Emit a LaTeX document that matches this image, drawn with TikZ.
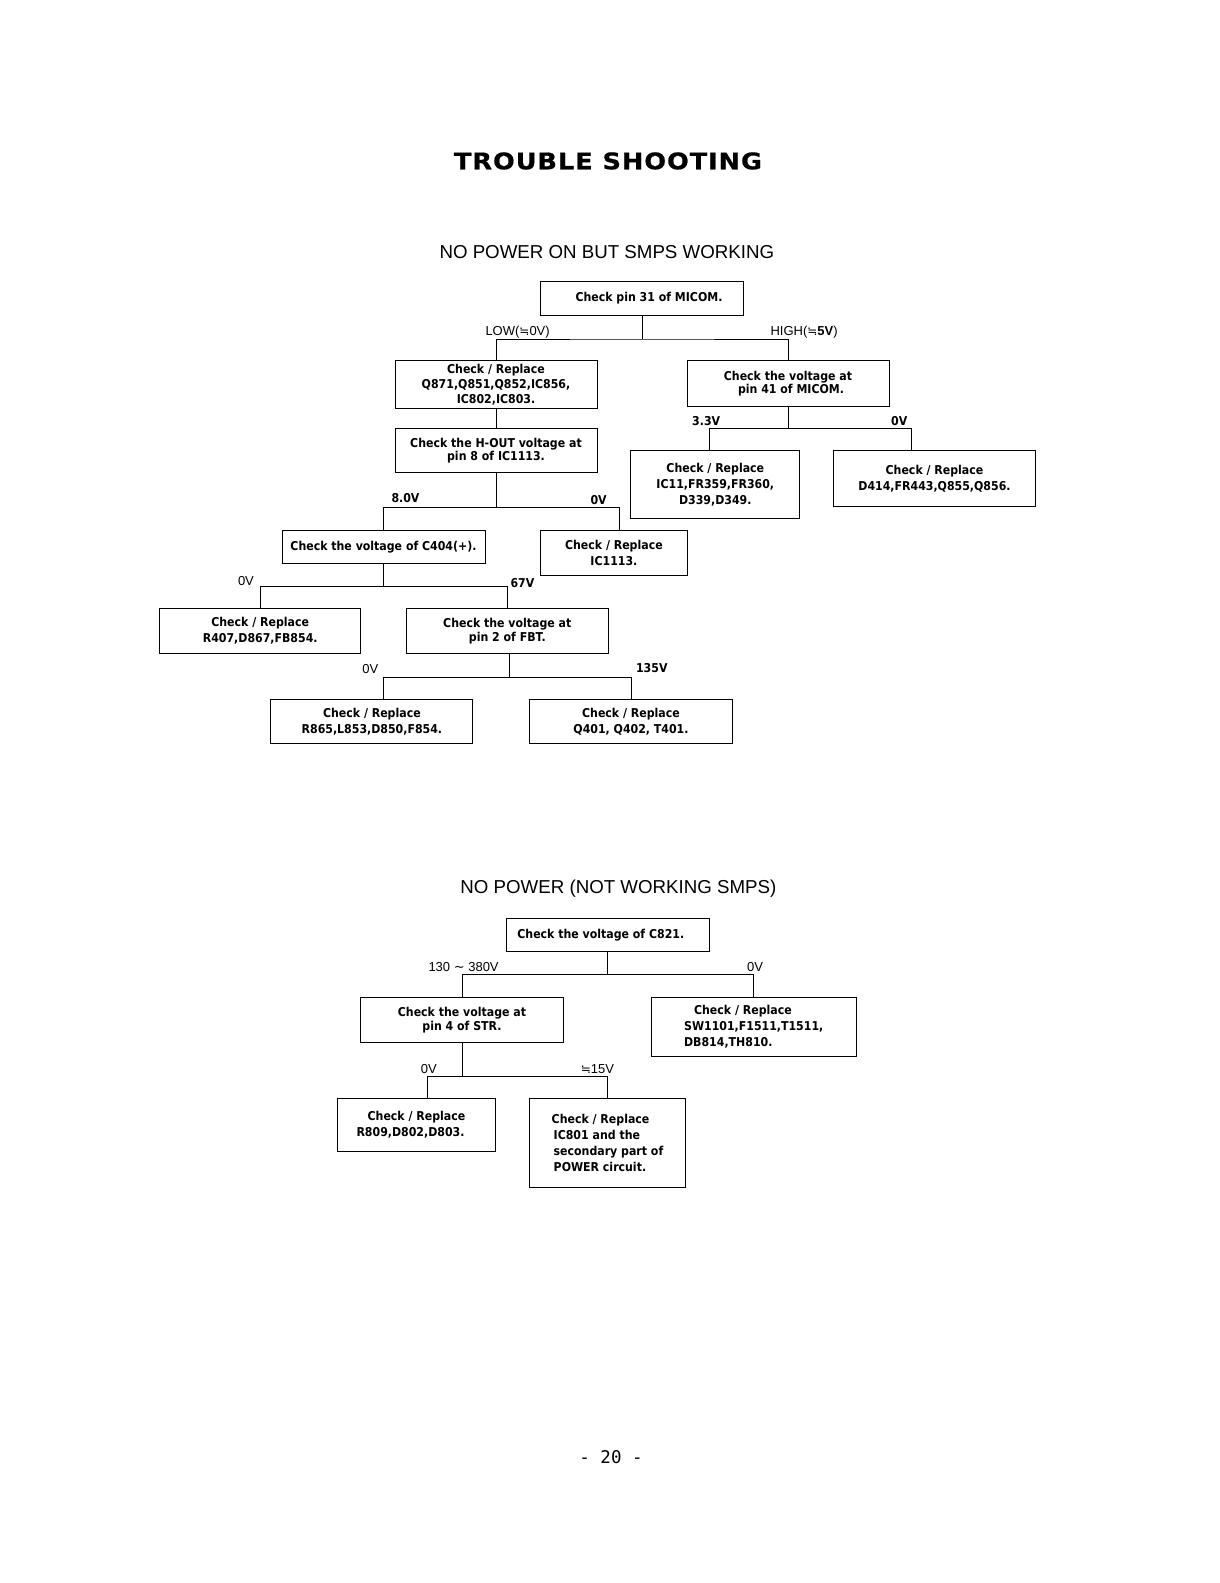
\documentclass[tikz,border=0pt]{standalone}
\usepackage{fontspec}
\setmainfont{Liberation Sans}
\newfontfamily\boxfont{DejaVu Sans}[FakeStretch=0.9]
\newfontfamily\symfont{DejaVu Sans}
\newfontfamily\titlefont{DejaVu Sans}[LetterSpace=4,FakeStretch=1.12,FakeBold=0.6]
\newfontfamily\pagefont{DejaVu Sans Mono}

\begin{document}
\begin{tikzpicture}[x=1pt,y=-1pt,line width=1pt,
  box/.style={draw,inner sep=0pt,align=center,
    font=\boxfont\bfseries\fontsize{12.2}{16}\selectfont},
  tight/.style={font=\boxfont\bfseries\fontsize{12.2}{13.5}\selectfont},
  lbl/.style={inner sep=0pt,anchor=base west,font=\fontsize{13}{15}\selectfont},
  blbl/.style={inner sep=0pt,anchor=base west,font=\boxfont\bfseries\fontsize{12.2}{15}\selectfont}]
\useasboundingbox (0,0) rectangle (1220,1583);

\node[anchor=base] (title) at (608,169.3) {\titlefont\bfseries\fontsize{22.9}{26}\selectfont TROUBLE SHOOTING};
\node[anchor=base] (head1) at (606.8,258) {\fontsize{18.7}{22}\selectfont NO POWER ON BUT SMPS WORKING};

\node[box,minimum width=203,minimum height=33.4] (pin31) at (642,298.6) {\kern14pt Check pin 31 of MICOM.};
\node[box,minimum width=202,minimum height=47.4,font=\boxfont\bfseries\fontsize{12.2}{15.2}\selectfont] (q871) at (496,384.5) {Check / Replace\\Q871,Q851,Q852,IC856,\\IC802,IC803.};
\node[box,tight,minimum width=202,minimum height=44.4] (hout) at (496,450.7) {Check the H-OUT voltage at\\pin 8 of IC1113.};
\node[box,tight,minimum width=202,minimum height=45.4] (pin41) at (788,383.5) {Check the voltage at\\\kern6pt pin 41 of MICOM.};
\node[box,minimum width=169.3,minimum height=67.6] (ic11) at (715.3,484.5) {Check / Replace\\IC11,FR359,FR360,\\D339,D349.};
\node[box,minimum width=202.4,minimum height=56] (d414) at (934.5,478.7) {Check / Replace\\D414,FR443,Q855,Q856.};
\node[box,minimum width=203,minimum height=33.4] (c404) at (383.5,547.2) {Check the voltage of C404(+).};
\node[box,minimum width=146.5,minimum height=44.5] (ic1113) at (613.9,552.8) {Check / Replace\\IC1113.};
\node[box,minimum width=201.5,minimum height=44.5] (r407) at (260.2,631) {Check / Replace\\R407,D867,FB854.};
\node[box,tight,minimum width=202,minimum height=45] (fbt) at (507.3,631.3) {Check the voltage at\\pin 2 of FBT.};
\node[box,minimum width=202,minimum height=44.4] (r865) at (371.9,721.5) {Check / Replace\\R865,L853,D850,F854.};
\node[box,minimum width=203,minimum height=44.4] (q401) at (631,721.5) {Check / Replace\\Q401, Q402, T401.};

\draw (pin31.south) -- ++(0,23.2) coordinate (j1);
\draw (q871.north) |- (j1) -| (pin41.north);
\draw (q871.south) -- (hout.north);
\draw (hout.south) -- ++(0,34.4) coordinate (j2);
\draw (c404.north) |- (j2) -| ([xshift=5.5]ic1113.north);
\draw (pin41.south) -- ++(0,22.1) coordinate (j3);
\draw ([xshift=-5.6]ic11.north) |- (j3) -| ([xshift=-22.8]d414.north);
\draw (c404.south) -- ++(0,22.1) coordinate (j4);
\draw (r407.north) |- (j4) -| (fbt.north);
\draw ([xshift=2]fbt.south) -- ++(0,23.2) coordinate (j5);
\draw ([xshift=12]r865.north) |- (j5) -| (q401.north);

\node[lbl] (low) at (485,335) {LOW({\symfont\fontsize{12}{14}\selectfont ≒}0V)};
\node[lbl] (high) at (770,335) {HIGH({\symfont\fontsize{12}{14}\selectfont ≒}\textbf{5V})};
\node[blbl] (v80) at (391,502) {8.0V};
\node[blbl] (v0a) at (590,504) {0V};
\node[blbl] (v33) at (691.7,425) {3.3V};
\node[blbl] (v0b) at (890.7,425) {0V};
\node[lbl] (v0c) at (237.5,585) {0V};
\node[blbl] (v67) at (510,587) {67V};
\node[lbl] (v0d) at (361.8,673) {0V};
\node[blbl] (v135) at (635.6,672) {135V};

\node[anchor=base] (head2) at (618.4,893) {\fontsize{18.7}{22}\selectfont NO POWER (NOT WORKING SMPS)};

\node[box,minimum width=203,minimum height=33.4] (c821) at (607.8,935.2) {Check the voltage of C821.\kern14pt};
\node[box,tight,minimum width=203,minimum height=45.4] (str) at (462,1020.1) {Check the voltage at\\pin 4 of STR.};
\node[box,align=left,minimum width=205,minimum height=58.6] (sw1101) at (753.7,1026.7) {\hspace*{10pt}Check / Replace\\SW1101,F1511,T1511,\\DB814,TH810.};
\node[box,minimum width=158.4,minimum height=53.4] (r809) at (416.5,1125) {Check / Replace\\R809,D802,D803.\kern12pt};
\node[box,align=left,minimum width=156.4,minimum height=89.4] (ic801) at (607.5,1143) {Check / Replace\\\hspace*{2pt}IC801 and the\\\hspace*{2pt}secondary part of\\\hspace*{2pt}POWER circuit.};

\draw (c821.south) -- ++(0,22.2) coordinate (j6);
\draw (str.north) |- (j6) -| (sw1101.north);
\draw (str.south) -- ++(0,33) coordinate (j7);
\draw ([xshift=10.8]r809.north) |- (j7) -| (ic801.north);

\node[lbl] (v130) at (428,971) {130 {\symfont ∼} 380V};
\node[lbl] (v0e) at (746.7,971) {0V};
\node[lbl] (v0f) at (420.3,1073) {0V};
\node[lbl] (v15) at (580.3,1073) {{\symfont\fontsize{12}{14}\selectfont ≒}15V};

\node[anchor=base] (page) at (611,1463.3) {\pagefont\fontsize{17.5}{20}\selectfont - 20 -};
\end{tikzpicture}
\end{document}
